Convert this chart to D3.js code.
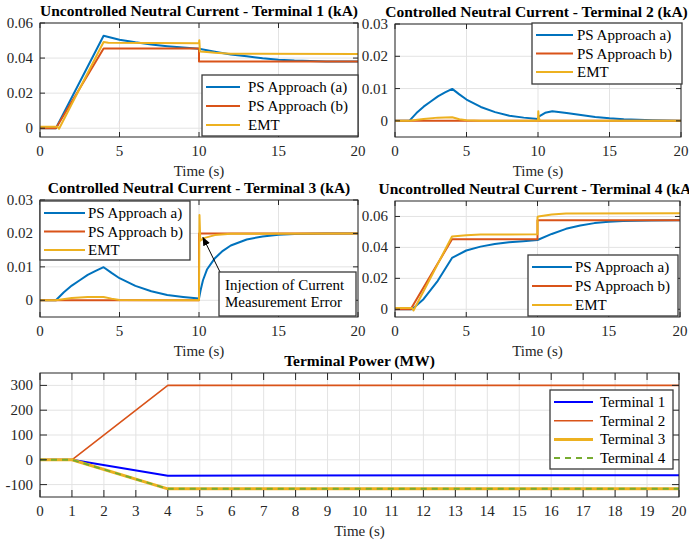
<!DOCTYPE html>
<html>
<head>
<meta charset="utf-8">
<script src="https://cdn.jsdelivr.net/npm/d3@7"></script>
<style>
body{margin:0;background:#fff}
svg{display:block;font-family:"Liberation Serif","Times New Roman",serif}
</style>
</head>
<body>
<svg width="689" height="542"></svg>
<script>
// ---- data ----
const blue="#0072BD", red="#D95319", yellow="#EDB120", green="#77AC30", pureBlue="#0000FF";

// Terminal 1, uncontrolled
const t1A=[0,1,4,5,6,7,8,9,10,11,12,13,14,15,16,18,20];
const i1A=[0,0,0.0527,0.0505,0.049,0.0478,0.0468,0.046,0.0453,0.0436,0.0421,0.041,0.0399,0.0391,0.0386,0.0381,0.038];
const t1B=[0,1,4,10,10,20];
const i1B=[0,0,0.0455,0.0455,0.038,0.038];
const t1E=[0,1.1,1.2,4,4.3,10,10.02,10.06,10.5,11,12,20];
const i1E=[0.0008,0.0008,-0.0003,0.0492,0.0488,0.0485,0.0502,0.0438,0.0435,0.043,0.0425,0.0423];

// Terminal 2, controlled
const t2A=[0,1,1.5,2,2.5,3,3.5,4,4.5,5,6,7,8,9,10,10.05,10.5,11,12,13,14,15,16,18,20];
const i2A=[0,0,0.0024,0.0044,0.006,0.0076,0.0088,0.0099,0.0082,0.0066,0.0043,0.0027,0.0016,0.001,0.0006,0.0013,0.0025,0.003,0.0024,0.0018,0.0012,0.0008,0.0005,0.0002,0];
const t2B=[0,20];
const i2B=[0,0];
const t2E=[0,1,2,3,4,4.5,5,6,10,10.02,10.06,10.15,20];
const i2E=[0,0,0.0006,0.001,0.0011,0.0005,0.0002,0,0,0.003,0.0008,0,0];

// Terminal 3, controlled
const t3A=[0,1,1.5,2,2.5,3,3.5,4,4.5,5,6,7,8,9,10,10.1,10.25,10.5,11,11.5,12,13,14,15,16,18,20];
const i3A=[0,0,0.0024,0.0044,0.006,0.0076,0.0088,0.0099,0.0082,0.0066,0.0043,0.0027,0.0016,0.001,0.0005,0.003,0.006,0.0092,0.0126,0.0148,0.0164,0.0182,0.0191,0.0196,0.0198,0.02,0.02];
const t3B=[0,10,10,20];
const i3B=[0,0,0.02,0.02];
const t3E=[0,1,2,3,4,4.5,5,10,10.03,10.08,10.3,11,12,20];
const i3E=[0,0,0.0007,0.001,0.001,0.0005,0.0001,0,0.0255,0.0178,0.0186,0.0195,0.0199,0.02];

// Terminal 4, uncontrolled
const t4A=[0,1.2,2,3,4,5,6,7,8,9,10,11,12,13,14,15,16,18,20];
const i4A=[0,0,0.0065,0.0184,0.0332,0.038,0.0405,0.0422,0.0433,0.044,0.0448,0.0487,0.052,0.0542,0.0557,0.0566,0.057,0.0574,0.0576];
const t4B=[0,1.1,4,10,10,20];
const i4B=[0,0,0.0452,0.0452,0.0575,0.0575];
const t4E=[0,1.2,1.3,4,5,6,10,10,10.05,11,12,20];
const i4E=[0.0008,0.0008,-0.0008,0.047,0.0479,0.0483,0.0485,0.0595,0.06,0.0613,0.0619,0.062];

// Terminal power
const tP=[0,1,4,20];
const pT1=[0,0,-64,-62];
const pT2=[0,0,300,300];
const pT3=[0,0,-117,-117];
const pT4=[0,0,-117,-117];

// ticks and labels
const xTicks=[0,5,10,15,20];
const xTicksP=[0,1,2,3,4,5,6,7,8,9,10,11,12,13,14,15,16,17,18,19,20];
const yTicks1=[0,0.02,0.04,0.06];
const yTicks2=[0,0.01,0.02,0.03];
const yTicks4=[0,0.02,0.04,0.06];
const yTicksP=[-100,0,100,200,300];
const legParen=["PS Approach (a)","PS Approach (b)","EMT"];
const legPlain=["PS Approach a)","PS Approach b)","EMT"];
const legP=["Terminal 1","Terminal 2","Terminal 3","Terminal 4"];
const note=["Injection of Current","Measurement Error"];

const svg=d3.select("svg");
const txtCol="#262626";
let clipId=0;

function panel(o){
  const x=d3.scaleLinear().domain(o.xd).range([o.l,o.r]);
  const y=d3.scaleLinear().domain(o.yd).range([o.b,o.t]);
  const g=svg.append("g");
  const tl=o.tick||5;
  // grid
  g.selectAll(null).data(o.xt).enter().append("line")
   .attr("x1",d=>x(d)).attr("x2",d=>x(d)).attr("y1",o.t).attr("y2",o.b)
   .attr("stroke","#e3e3e3");
  g.selectAll(null).data(o.yt).enter().append("line")
   .attr("y1",d=>y(d)).attr("y2",d=>y(d)).attr("x1",o.l).attr("x2",o.r)
   .attr("stroke","#e3e3e3");
  // series
  const id="c"+(clipId++);
  svg.append("clipPath").attr("id",id).append("rect")
   .attr("x",o.l).attr("y",o.t).attr("width",o.r-o.l).attr("height",o.b-o.t);
  const line=d3.line().x(d=>x(d[0])).y(d=>y(d[1]));
  o.series.forEach(s=>{
    g.append("path").datum(s.t.map((t,i)=>[t,s.v[i]]))
     .attr("clip-path","url(#"+id+")")
     .attr("d",line).attr("fill","none").attr("stroke",s.c)
     .attr("stroke-width",s.w||2).attr("stroke-dasharray",s.dash||null)
     .attr("stroke-linejoin","round");
  });
  // box
  g.append("rect").attr("x",o.l).attr("y",o.t).attr("width",o.r-o.l).attr("height",o.b-o.t)
   .attr("fill","none").attr("stroke",txtCol).attr("stroke-width",1);
  // ticks inward on all sides
  o.xt.forEach(d=>{
    g.append("line").attr("x1",x(d)).attr("x2",x(d)).attr("y1",o.b).attr("y2",o.b-tl).attr("stroke",txtCol);
    g.append("line").attr("x1",x(d)).attr("x2",x(d)).attr("y1",o.t).attr("y2",o.t+tl).attr("stroke",txtCol);
  });
  o.yt.forEach(d=>{
    g.append("line").attr("y1",y(d)).attr("y2",y(d)).attr("x1",o.l).attr("x2",o.l+tl).attr("stroke",txtCol);
    g.append("line").attr("y1",y(d)).attr("y2",y(d)).attr("x1",o.r).attr("x2",o.r-tl).attr("stroke",txtCol);
  });
  g.selectAll(null).data(o.xt).enter().append("text")
   .attr("x",d=>x(d)).attr("y",o.b+19).attr("text-anchor","middle")
   .attr("font-size",15).attr("fill",txtCol).text(d=>d);
  g.selectAll(null).data(o.yt).enter().append("text")
   .attr("x",o.l-7).attr("y",d=>y(d)+5).attr("text-anchor","end")
   .attr("font-size",15).attr("fill",txtCol).text(d=>String(d));
  g.append("text").attr("x",(o.l+o.r)/2).attr("y",o.b+39).attr("text-anchor","middle")
   .attr("font-size",15).attr("fill",txtCol).text("Time (s)");
  g.append("text").attr("x",(o.l+o.r)/2+(o.tdx||0)).attr("y",o.t-7).attr("text-anchor","middle")
   .attr("font-size",15.5).attr("font-weight","bold").attr("fill","#000").text(o.title);
  // legend
  const L=o.leg;
  const lg=svg.append("g");
  lg.append("rect").attr("x",L.x).attr("y",L.y).attr("width",L.w).attr("height",L.h)
   .attr("fill","#fff").attr("stroke","#3a3a3a").attr("stroke-width",1.3);
  L.labels.forEach((lab,i)=>{
    const s=o.series[i], yy=L.y+12+i*L.dy;
    lg.append("line").attr("x1",L.x+4).attr("x2",L.x+L.lw).attr("y1",yy).attr("y2",yy)
     .attr("stroke",s.c).attr("stroke-width",s.w||2).attr("stroke-dasharray",s.dash||null);
    lg.append("text").attr("x",L.x+L.tx).attr("y",yy+5).attr("font-size",15).attr("fill","#000").text(lab);
  });
  return {x,y};
}

const ser=(ta,va,tb,vb,te,ve)=>[{t:ta,v:va,c:blue},{t:tb,v:vb,c:red},{t:te,v:ve,c:yellow}];

panel({l:40,r:358,t:23,b:137,xd:[0,20],yd:[-0.005,0.06],xt:xTicks,yt:yTicks1,
  title:"Uncontrolled Neutral Current - Terminal 1 (kA)",
  series:ser(t1A,i1A,t1B,i1B,t1E,i1E),
  leg:{x:202,y:75,w:156,h:61,dy:19,lw:38,tx:46,labels:legParen}});

panel({l:395,r:681,t:24,b:137,xd:[0,20],yd:[-0.005,0.03],xt:xTicks,yt:yTicks2,tdx:-1.5,
  title:"Controlled Neutral Current - Terminal 2 (kA)",
  series:ser(t2A,i2A,t2B,i2B,t2E,i2E),
  leg:{x:532,y:23,w:150,h:61,dy:18.5,lw:41,tx:45,labels:legPlain}});

const p3=panel({l:40,r:358,t:200,b:317,xd:[0,20],yd:[-0.005,0.03],xt:xTicks,yt:yTicks2,
  title:"Controlled Neutral Current - Terminal 3 (kA)",
  series:ser(t3A,i3A,t3B,i3B,t3E,i3E),
  leg:{x:40,y:201,w:150,h:59,dy:18.5,lw:45,tx:48,labels:legPlain}});

panel({l:395,r:680,t:201,b:317,xd:[0,20],yd:[-0.005,0.07],xt:xTicks,yt:yTicks4,
  title:"Uncontrolled Neutral Current - Terminal 4 (kA)",
  series:ser(t4A,i4A,t4B,i4B,t4E,i4E),
  leg:{x:528,y:255,w:150,h:61,dy:19,lw:44,tx:47,labels:legPlain}});

panel({l:40,r:679,t:373,b:497,xd:[0,20],yd:[-150,350],xt:xTicksP,yt:yTicksP,tick:7,
  title:"Terminal Power (MW)",
  series:[{t:tP,v:pT1,c:pureBlue,w:2},{t:tP,v:pT2,c:red,w:1.6},{t:tP,v:pT3,c:yellow,w:3},{t:tP,v:pT4,c:green,w:2,dash:"6,5"}],
  leg:{x:550,y:390,w:123,h:79,dy:18.7,lw:43,tx:50,labels:legP}});

// annotation on terminal 3
svg.append("defs").append("marker").attr("id","ah").attr("viewBox","0 0 10 10")
  .attr("refX",9).attr("refY",5).attr("markerWidth",9).attr("markerHeight",9).attr("orient","auto")
  .append("path").attr("d","M0,1 L10,5 L0,9 Z").attr("fill","#000");
svg.append("line").attr("x1",220).attr("y1",272).attr("x2",p3.x(10.25)).attr("y2",p3.y(0.0188))
  .attr("stroke","#000").attr("stroke-width",1).attr("marker-end","url(#ah)");
const ann=svg.append("g");
ann.append("rect").attr("x",219).attr("y",272).attr("width",137).attr("height",44)
  .attr("fill","#fff").attr("stroke","#3a3a3a").attr("stroke-width",1.3);
note.forEach((s,i)=>ann.append("text").attr("x",225).attr("y",290+i*17)
  .attr("font-size",15).attr("fill","#000").text(s));
</script>
</body>
</html>
